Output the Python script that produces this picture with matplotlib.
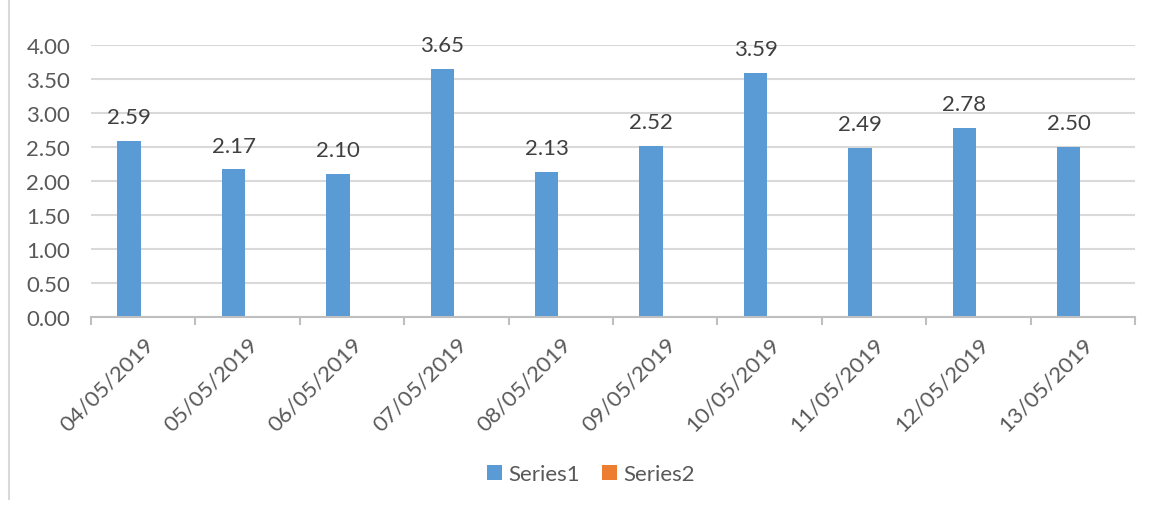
import matplotlib
matplotlib.use("Agg")
import matplotlib.pyplot as plt
from matplotlib.patches import Patch
from matplotlib.lines import Line2D
import numpy as np

dates = ["04/05/2019", "05/05/2019", "06/05/2019", "07/05/2019", "08/05/2019",
         "09/05/2019", "10/05/2019", "11/05/2019", "12/05/2019", "13/05/2019"]
series1 = [2.59, 2.17, 2.10, 3.65, 2.13, 2.52, 3.59, 2.49, 2.78, 2.50]
series_names = ["Series1", "Series2"]
y_ticks = [0.0, 0.5, 1.0, 1.5, 2.0, 2.5, 3.0, 3.5, 4.0]

BLUE = "#5B9BD5"
ORANGE = "#ED7D31"
TEXT = "#595959"
GRID = "#D9D9D9"
FS = 16

plt.rcParams["font.family"] = ["Lato", "DejaVu Sans"]

fig = plt.figure(figsize=(11.51, 5.06), dpi=100)
ax = fig.add_axes([91 / 1151, 1 - 318 / 506, (1135 - 91) / 1151, (318 - 46) / 506])

x = np.arange(len(dates))
bar_w = 0.225
bars = ax.bar(x - 0.135, series1, width=bar_w, color=BLUE, zorder=3)

for xi, v in zip(x, series1):
    ax.annotate(f"{v:.2f}", (xi - 0.135, v), xytext=(0, 10), textcoords="offset points",
                ha="center", va="bottom", fontsize=FS, color="#404040")

ax.set_xlim(-0.5, len(dates) - 0.5)
ax.set_ylim(0, 4)
ax.set_yticks(y_ticks)
ax.set_yticklabels([f"{t:.2f}" for t in y_ticks])
ax.yaxis.grid(True, color=GRID, linewidth=1.5, zorder=0)
ax.tick_params(axis="y", length=0, labelsize=FS, labelcolor=TEXT, pad=15)

# category labels at centers, tick marks at category boundaries
ax.set_xticks(x)
ax.set_xticklabels(dates, rotation=45, ha="right", rotation_mode="anchor",
                   fontsize=FS, color=TEXT)
ax.tick_params(axis="x", length=0, pad=12)
ax.set_xticks(np.arange(-0.5, len(dates)), minor=True)
ax.tick_params(axis="x", which="minor", length=6, width=1.5, color="#BFBFBF")

for s in ["top", "right", "left"]:
    ax.spines[s].set_visible(False)
ax.spines["bottom"].set_color("#BFBFBF")
ax.spines["bottom"].set_linewidth(1.5)
ax.spines["bottom"].set_zorder(4)

handles = [Patch(facecolor=BLUE), Patch(facecolor=ORANGE)]
fig.legend(handles, series_names, loc="center", bbox_to_anchor=(591 / 1151, 1 - 475 / 506),
           ncol=2, frameon=False, fontsize=FS, labelcolor=TEXT,
           handlelength=0.65, handleheight=0.65, handletextpad=0.3, columnspacing=1.0)

# chart area border on the left edge
fig.add_artist(Line2D([9 / 1151, 9 / 1151], [1 - 500 / 506, 1.0], transform=fig.transFigure,
                      color="#D9D9D9", linewidth=1.5))

fig.savefig("out.png", dpi=100, facecolor="white")
